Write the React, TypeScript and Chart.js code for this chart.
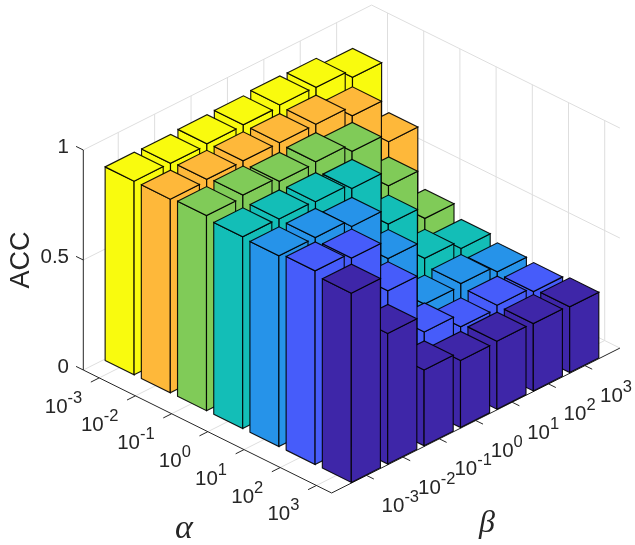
import React, { useEffect, useRef } from "react";
import { Chart, registerables } from "chart.js";

Chart.register(...registerables);

const alphaExponents = ["-3", "-2", "-1", "0", "1", "2", "3"];
const betaExponents = ["-3", "-2", "-1", "0", "1", "2", "3"];
const zTicks = [0, 0.5, 1];
const zTickLabels = ["0", "0.5", "1"];

// ACC per beta, one list per alpha
const accAlpha1 = [0.88, 0.878, 0.884, 0.887, 0.894, 0.891, 0.853];
const accAlpha2 = [0.88, 0.887, 0.888, 0.887, 0.888, 0.843, 0.642];
const accAlpha3 = [0.887, 0.897, 0.876, 0.882, 0.846, 0.606, 0.375];
const accAlpha4 = [0.872, 0.87, 0.865, 0.842, 0.597, 0.358, 0.32];
const accAlpha5 = [0.867, 0.867, 0.834, 0.605, 0.315, 0.325, 0.295];
const accAlpha6 = [0.88, 0.855, 0.623, 0.353, 0.293, 0.308, 0.287];
const accAlpha7 = [0.86, 0.594, 0.345, 0.305, 0.309, 0.306, 0.299];
const accRows = [accAlpha1, accAlpha2, accAlpha3, accAlpha4, accAlpha5, accAlpha6, accAlpha7];

const rowColors = ["#F9FB0E", "#FEB83A", "#80CB58", "#13BEB7", "#2693E9", "#465CFA", "#3E26A8"];

// view of the 3D axes box (orthographic)
const A_MIN = 0.56, A_MAX = 7.42, B_MIN = 0.04, B_MAX = 7.96;
const ORIGIN = { x: 83.3, y: 370 };
const A_VEC = { x: 36.2, y: 17.93 };
const B_VEC = { x: 36.4, y: -18.3 };
const Z_LEN = 220;
const HALF = 0.4;

const project = (a: number, b: number, z: number) => ({
  x: ORIGIN.x + (a - A_MIN) * A_VEC.x + (b - B_MIN) * B_VEC.x,
  y: ORIGIN.y + (a - A_MIN) * A_VEC.y + (b - B_MIN) * B_VEC.y - z * Z_LEN,
});

const GRID = "#DEDEDE";
const AXIS = "#262626";
const EDGE = "rgba(0,0,0,0.9)";

const lineDs = (pts: { x: number; y: number }[], color: string, width = 1) => ({
  data: pts,
  showLine: true,
  pointRadius: 0,
  borderColor: color,
  borderWidth: width,
  borderDash: [10000, 0],
  borderCapStyle: "butt",
  fill: false,
  clip: false,
});

const faceDs = (pts: { x: number; y: number }[], color: string) => ({
  data: [...pts, pts[0]],
  showLine: true,
  pointRadius: 0,
  borderColor: EDGE,
  borderWidth: 1.15,
  borderDash: [10000, 0],
  borderCapStyle: "round",
  borderJoinStyle: "miter",
  backgroundColor: color,
  fill: "shape",
  clip: false,
});

function buildDatasets() {
  const list: any[] = [];
  const aTicks = alphaExponents.map((_, i) => i + 1);
  const bTicks = betaExponents.map((_, i) => i + 1);
  // walls and floor
  for (const z of zTicks) {
    list.push(lineDs([project(A_MIN, B_MIN, z), project(A_MIN, B_MAX, z)], GRID));
    list.push(lineDs([project(A_MIN, B_MAX, z), project(A_MAX, B_MAX, z)], GRID));
  }
  for (const b of bTicks) {
    list.push(lineDs([project(A_MIN, b, 0), project(A_MIN, b, 1)], GRID));
    list.push(lineDs([project(A_MIN, b, 0), project(A_MAX, b, 0)], GRID));
  }
  for (const a of aTicks) {
    list.push(lineDs([project(a, B_MAX, 0), project(a, B_MAX, 1)], GRID));
    list.push(lineDs([project(a, B_MIN, 0), project(a, B_MAX, 0)], GRID));
  }
  // axis lines and tick marks
  list.push(lineDs([project(A_MIN, B_MIN, 0), project(A_MIN, B_MIN, 1)], AXIS));
  list.push(lineDs([project(A_MIN, B_MIN, 0), project(A_MAX, B_MIN, 0)], AXIS));
  list.push(lineDs([project(A_MAX, B_MIN, 0), project(A_MAX, B_MAX, 0)], AXIS));
  for (const z of zTicks) {
    list.push(lineDs([project(A_MIN, B_MIN, z), project(A_MIN - 0.2, B_MIN, z)], AXIS));
  }
  for (const a of aTicks) {
    list.push(lineDs([project(a, B_MIN, 0), project(a, B_MIN - 0.23, 0)], AXIS));
  }
  for (const b of bTicks) {
    list.push(lineDs([project(A_MAX, b, 0), project(A_MAX + 0.2, b, 0)], AXIS));
  }
  // bars, far ones first
  accRows.forEach((row, r) => {
    const a = r + 1;
    for (let c = row.length - 1; c >= 0; c--) {
      const b = c + 1;
      const z = row[c];
      const color = rowColors[r];
      const a0 = a - HALF, a1 = a + HALF, b0 = b - HALF, b1 = b + HALF;
      list.push(faceDs([project(a0, b0, 0), project(a1, b0, 0), project(a1, b0, z), project(a0, b0, z)], color));
      list.push(faceDs([project(a1, b0, 0), project(a1, b1, 0), project(a1, b1, z), project(a1, b0, z)], color));
      list.push(faceDs([project(a0, b0, z), project(a1, b0, z), project(a1, b1, z), project(a0, b1, z)], color));
    }
  });
  // chart.js paints the first dataset last
  return list.reverse();
}

const TICK_FONT = '20.5px "Liberation Sans"';
const SUP_FONT = '16.5px "Liberation Sans"';

function powerLabel(ctx: CanvasRenderingContext2D, exp: string, x: number, y: number, align: "left" | "right") {
  ctx.textAlign = "left";
  ctx.textBaseline = "alphabetic";
  ctx.font = TICK_FONT;
  const w1 = ctx.measureText("10").width;
  ctx.font = SUP_FONT;
  const w2 = ctx.measureText(exp).width;
  const start = align === "right" ? x - w1 - w2 : x;
  ctx.font = TICK_FONT;
  ctx.fillText("10", start, y);
  ctx.font = SUP_FONT;
  ctx.fillText(exp, start + w1, y - 10);
}

const textPlugin = {
  id: "axisText",
  afterDraw(chart: any) {
    const ctx: CanvasRenderingContext2D = chart.ctx;
    const sx = chart.scales.x;
    const sy = chart.scales.y;
    ctx.save();
    ctx.fillStyle = AXIS;
    // z ticks
    ctx.font = TICK_FONT;
    ctx.textAlign = "right";
    ctx.textBaseline = "alphabetic";
    zTicks.forEach((z, i) => {
      const p = project(A_MIN, B_MIN, z);
      ctx.fillText(zTickLabels[i], sx.getPixelForValue(p.x) - 14.3, sy.getPixelForValue(p.y) + 2.7);
    });
    alphaExponents.forEach((e, i) => {
      const p = project(i + 1, B_MIN, 0);
      powerLabel(ctx, e, sx.getPixelForValue(p.x) - 17, sy.getPixelForValue(p.y) + 35, "right");
    });
    betaExponents.forEach((e, i) => {
      const p = project(A_MAX, i + 1, 0);
      powerLabel(ctx, e, sx.getPixelForValue(p.x) + 15, sy.getPixelForValue(p.y) + 36.5, "left");
    });
    // axis titles
    ctx.save();
    ctx.translate(29, 260);
    ctx.rotate(-Math.PI / 2);
    ctx.textAlign = "center";
    ctx.font = '27px "Liberation Sans"';
    ctx.fillText("ACC", 0, 0);
    ctx.restore();
    ctx.textAlign = "center";
    ctx.font = 'italic 34px "Liberation Serif"';
    ctx.fillText("\u03B1", 184, 538);
    ctx.font = 'italic 32px "Liberation Serif"';
    ctx.fillText("\u03B2", 487, 532);
    ctx.restore();
  },
};

export default function App() {
  const ref = useRef<HTMLCanvasElement | null>(null);
  useEffect(() => {
    if (!ref.current) return;
    const chart = new Chart(ref.current, {
      type: "scatter",
      data: { datasets: buildDatasets() as any },
      options: {
        animation: false,
        responsive: false,
        devicePixelRatio: 1,
        layout: { padding: 0 },
        plugins: { legend: { display: false }, tooltip: { enabled: false } },
        scales: {
          x: { type: "linear", min: 0, max: 635, display: false },
          y: { type: "linear", min: 0, max: 545, reverse: true, display: false },
        },
      },
      plugins: [textPlugin],
    } as any);
    return () => chart.destroy();
  }, []);
  return (
    <canvas
      ref={ref}
      width={635}
      height={545}
      style={{ position: "absolute", left: 0, top: 0, display: "block", background: "#fff" }}
    />
  );
}
